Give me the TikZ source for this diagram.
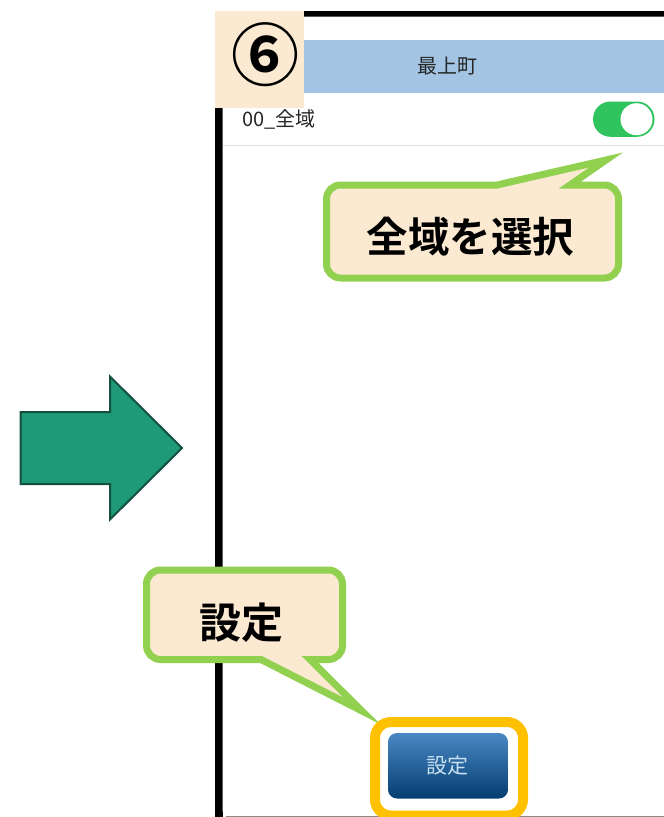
\documentclass[tikz,border=0pt]{standalone}
\usepackage{fontspec}
\setmainfont{Noto Sans CJK JP}
\newfontfamily\cjkb{Noto Sans CJK JP Bold}
\definecolor{beige}{HTML}{FBE9D1}
\definecolor{calloutgreen}{HTML}{92D050}
\definecolor{headerblue}{HTML}{A3C4E3}
\definecolor{orangebox}{HTML}{FFC000}
\definecolor{togglegreen}{HTML}{2FC45E}
\definecolor{arrowfill}{HTML}{1F9A78}
\definecolor{arrowline}{HTML}{14503F}
\definecolor{btntop}{HTML}{4A88C4}
\definecolor{btnbottom}{HTML}{033C70}
\definecolor{btntext}{HTML}{C8E0F0}
\tikzset{
  callout/.style={draw=calloutgreen,fill=beige,line width=7pt,miter limit=20,line join=miter},
  calloutlabel/.style={font=\cjkb,text=black,inner sep=0pt},
  uilabel/.style={text=black!85,inner sep=0pt},
}
\begin{document}
\begin{tikzpicture}[x=1pt,y=-1pt]
\useasboundingbox (0,0) rectangle (664,817);
\fill[white] (0,0) rectangle (664,817);
% phone frame
\fill[black] (215,11) rectangle (664,16.5);
\fill[black] (215,11) rectangle (222.5,817);
\fill[white,rounded corners=6pt] (222.5,16.5) rectangle (670,816);
\draw[black!45,line width=.8pt] (226,816.4) -- (664,816.4);
% header
\fill[headerblue] (300,40) rectangle (664,93);
\node[uilabel,font=\fontsize{20}{20}\selectfont] (title) at (447.5,66.5) {最上町};
% row
\node[uilabel,font=\fontsize{20}{20}\selectfont,anchor=west] (row) at (242,119.5) {00\_全域};
\fill[togglegreen,rounded corners=17.5pt] (593,101.5) rectangle (654.5,136.8);
\fill[white] (636.5,119.2) circle (16);
\draw[black!12,line width=1pt] (222.5,145.3) -- (664,145.3);
% step badge
\fill[beige] (214.5,10.5) rectangle (304,108);
\node[inner sep=0pt,font=\cjkb\fontsize{68}{68}\selectfont] (badge) at (265,55) {⑥};
% arrow
\draw[fill=arrowfill,draw=arrowline,line width=2pt,miter limit=10]
  (20.5,412) -- (110,412) -- (110,376.5) -- (182,448) -- (110,519.5) -- (110,484) -- (20.5,484) -- cycle;
% callout 1
\path[callout]
  [rounded corners=14pt] (326.5,185) [sharp corners] -- (497,185) -- (606,160) -- (570,185)
  [rounded corners=14pt] -- (618.5,185) -- (618.5,278) -- (326.5,278) -- cycle;
\node[calloutlabel,font=\cjkb\fontsize{41.5}{41.5}\selectfont] (label1) at (470.5,237) {全域を選択};
% callout 2
\path[callout]
  [rounded corners=14pt] (146.5,570) -- (342.5,570) -- (342.5,659.5) [sharp corners] -- (310,659.5) -- (362,711) -- (261,659.5)
  [rounded corners=14pt] -- (146.5,659.5) -- cycle;
\node[calloutlabel,font=\cjkb\fontsize{42}{42}\selectfont] (label2) at (241,623) {設定};
% button
\draw[orangebox,line width=10pt,rounded corners=16pt] (375,722) rectangle (523,815.5);
\shade[top color=btntop,bottom color=btnbottom,rounded corners=9pt] (388,733) rectangle (508,798.5);
\node[inner sep=0pt,text=btntext,font=\fontsize{21}{21}\selectfont] (btn) at (447.5,766) {設定};
\end{tikzpicture}
\end{document}
